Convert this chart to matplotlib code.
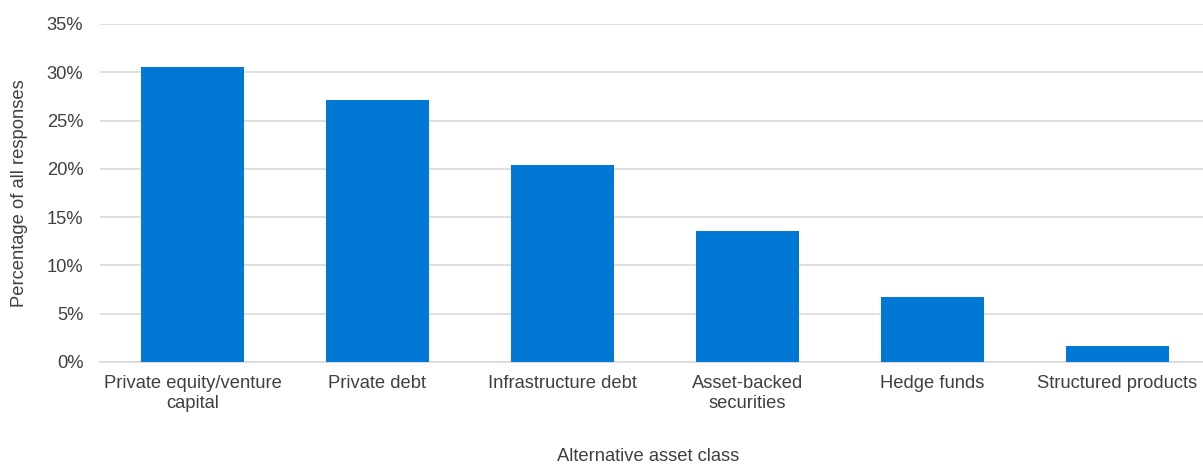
import matplotlib.pyplot as plt
from matplotlib.ticker import PercentFormatter

# Share of responses per alternative asset class
categories = ["Private equity/venture\ncapital", "Private debt", "Infrastructure debt",
              "Asset-backed\nsecurities", "Hedge funds", "Structured products"]
shares = [30.5, 27.1, 20.4, 13.6, 6.7, 1.7]

plt.rcParams['font.family'] = ['Liberation Sans', 'DejaVu Sans']
text_color = '#404040'
fs = 13.2

fig = plt.figure(figsize=(12.03, 4.65), dpi=100)
ax = fig.add_axes([100 / 1203, 1 - 362 / 465, 1110 / 1203, 338 / 465])

x = range(len(categories))
ax.bar(x, shares, width=0.555, color='#0078d4', zorder=3)

ax.set_xlim(-0.5, len(categories) - 0.5)
ax.set_ylim(0, 35)
ax.set_yticks(range(0, 36, 5))
ax.yaxis.set_major_formatter(PercentFormatter(decimals=0))
ax.set_xticks(list(x))
ax.set_xticklabels(categories, linespacing=1.25)

ax.grid(axis='y', color='#d9d9d9', linewidth=1.2, zorder=0)
for s in ['top', 'right', 'left']:
    ax.spines[s].set_visible(False)
ax.spines['bottom'].set_color('#d9d9d9')
ax.spines['bottom'].set_linewidth(1.2)

ax.tick_params(axis='both', length=0, labelsize=fs, colors=text_color)
ax.tick_params(axis='x', pad=9)
ax.tick_params(axis='y', pad=12)

fig.text(648 / 1203, 1 - 456 / 465, "Alternative asset class", ha='center', va='center',
         fontsize=fs, color=text_color)
fig.text(20 / 1203, 1 - 193 / 465, "Percentage of all responses", ha='center', va='center',
         rotation=90, fontsize=fs, color=text_color)

fig.savefig("out.png", dpi=100)
